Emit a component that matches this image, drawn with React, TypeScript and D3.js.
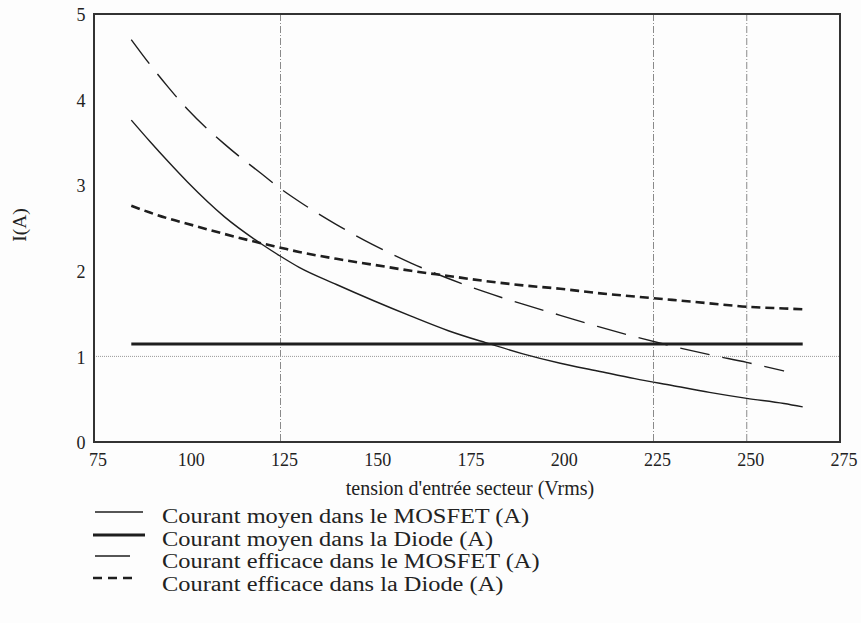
import React from "react";
import * as d3 from "d3";

const voltages = [85, 90, 95, 100, 110, 120, 125, 130, 140, 150, 160, 170, 180, 190, 200, 210, 220, 230, 240, 250, 260, 265];
const mosfetAvg = [3.76, 3.51, 3.27, 3.04, 2.63, 2.31, 2.17, 2.04, 1.84, 1.65, 1.47, 1.3, 1.16, 1.03, 0.92, 0.83, 0.74, 0.66, 0.58, 0.51, 0.45, 0.41];
const diodeRms = [2.76, 2.68, 2.61, 2.55, 2.43, 2.32, 2.27, 2.22, 2.14, 2.07, 2.0, 1.94, 1.88, 1.83, 1.79, 1.74, 1.7, 1.66, 1.62, 1.58, 1.56, 1.55];
const voltagesRms = [85, 90, 95, 100, 110, 120, 125, 130, 140, 150, 160, 170, 180, 190, 200, 210, 220, 230, 240, 250, 260];
const mosfetRms = [4.7, 4.41, 4.14, 3.89, 3.48, 3.13, 2.96, 2.81, 2.54, 2.3, 2.09, 1.91, 1.75, 1.61, 1.48, 1.35, 1.23, 1.12, 1.02, 0.93, 0.83];
const diodeAvgV = [85, 265];
const diodeAvg = [1.145, 1.145];

const xTicks = [75, 100, 125, 150, 175, 200, 225, 250, 275];
const yTicks = [0, 1, 2, 3, 4, 5];
const gridX = [125, 225, 250];
const gridY = [1];

const legendLabels = [
  "Courant moyen dans le MOSFET (A)",
  "Courant moyen dans la Diode (A)",
  "Courant efficace dans le MOSFET (A)",
  "Courant efficace dans la Diode (A)",
];
const xTitle = "tension d'entrée secteur (Vrms)";
const yTitle = "I(A)";

const W = 861, H = 623;
const L = 94, R = 840, T = 14, B = 442;
const FONT = "'Liberation Serif', 'Times New Roman', serif";

export default function App() {
  const x = d3.scaleLinear().domain([75, 275]).range([L, R]);
  const y = d3.scaleLinear().domain([0, 5]).range([B, T]);
  const line = (xs: number[], ys: number[]) =>
    d3.line<number>().x((_, i) => x(xs[i])).y((d) => y(d)).curve(d3.curveMonotoneX)(ys) || "";

  const ink = "#1e1e1e";
  const series = [
    { d: line(voltages, mosfetAvg), w: 1.4, dash: "" },
    { d: line(diodeAvgV, diodeAvg), w: 3, dash: "" },
    { d: line(voltagesRms, mosfetRms), w: 1.4, dash: "30,13" },
    { d: line(voltages, diodeRms), w: 2.6, dash: "9,5" },
  ];
  const legendRows = [
    { y: 512, x1: 95, x2: 143, w: 1.4, dash: "", ty: 523 },
    { y: 535, x1: 93, x2: 145, w: 3, dash: "", ty: 546 },
    { y: 556, x1: 95, x2: 130, w: 1.4, dash: "", ty: 568 },
    { y: 578, x1: 93, x2: 135, w: 2.6, dash: "9,6", ty: 591 },
  ];

  return (
    <svg width={W} height={H} style={{ position: "absolute", left: 0, top: 0, background: "#fdfdfd" }} fontFamily={FONT}>
      <rect x={0} y={0} width={W} height={H} fill="#fdfdfd" />
      {gridX.map((g) => (
        <line key={"gx" + g} x1={x(g)} x2={x(g)} y1={T} y2={B} stroke="#8a8a8a" strokeWidth={1} strokeDasharray="7,2,1,2" />
      ))}
      {gridY.map((g) => (
        <line key={"gy" + g} x1={L} x2={R} y1={y(g)} y2={y(g)} stroke="#9a9a9a" strokeWidth={1} strokeDasharray="1,1" />
      ))}
      {series.map((s, i) => (
        <path key={i} d={s.d} fill="none" stroke={ink} strokeWidth={s.w} strokeDasharray={s.dash} />
      ))}
      <rect x={L} y={T} width={R - L} height={B - T} fill="none" stroke="#333" strokeWidth={2} />
      {yTicks.map((t) => (
        <text key={"yt" + t} x={81} y={y(t) + 3} textAnchor="middle" dominantBaseline="middle" fontSize={18} fill="#222">
          {t}
        </text>
      ))}
      {xTicks.map((t) => (
        <text key={"xt" + t} x={x(t) + 4} y={466} textAnchor="middle" fontSize={18} fill="#222">
          {t}
        </text>
      ))}
      <text x={470} y={495} textAnchor="middle" fontSize={20} fill="#222">{xTitle}</text>
      <text transform="translate(26,225) rotate(-90)" textAnchor="middle" fontSize={19.5} fill="#222">{yTitle}</text>
      {legendRows.map((r, i) => (
        <g key={"lg" + i}>
          <line x1={r.x1} x2={r.x2} y1={r.y} y2={r.y} stroke={ink} strokeWidth={r.w} strokeDasharray={r.dash} />
          <text transform={`translate(162,${r.ty}) scale(1.19,1)`} x={0} y={0} fontSize={20.5} fill="#222">{legendLabels[i]}</text>
        </g>
      ))}
    </svg>
  );
}
